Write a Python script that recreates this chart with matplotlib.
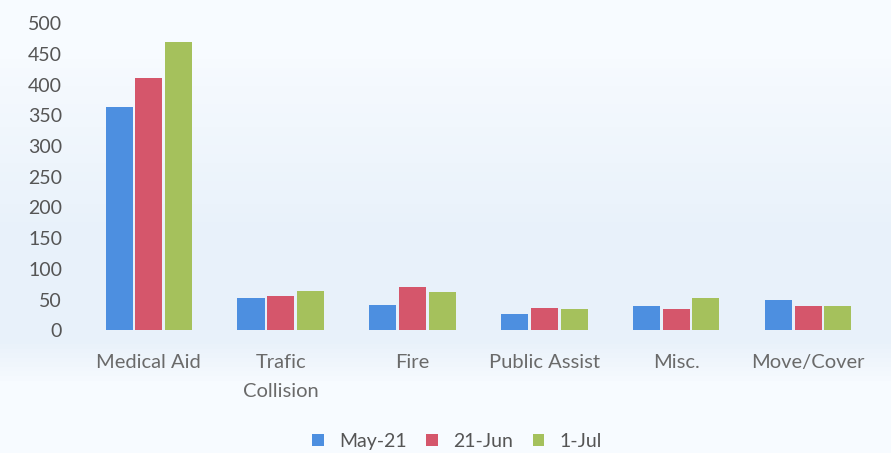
import numpy as np
import matplotlib.pyplot as plt

# values
categories = ['Medical Aid', 'Trafic\nCollision', 'Fire', 'Public Assist', 'Misc.', 'Move/Cover']
may21 = [363, 53, 41, 27, 40, 50]
jun21 = [410, 56, 70, 37, 34, 40]
jul1 = [469, 64, 63, 34, 52, 39]
series_names = ['May-21', '21-Jun', '1-Jul']
colors = ['#4d8fe0', '#d5566b', '#a5c15c']

plt.rcParams['font.family'] = ['Lato', 'DejaVu Sans']

fig = plt.figure(figsize=(8.91, 4.53), dpi=100)

# faint scanned-paper tint behind the lower part of the chart
bg = fig.add_axes([0, 0, 1, 1], zorder=-1)
grad = np.concatenate([np.zeros(10), np.linspace(0, 1, 40), np.ones(25), np.linspace(1, 0, 10), np.zeros(15)])
bg.imshow(grad[:, None], aspect='auto', cmap='Blues', vmin=0, vmax=14, extent=[0, 1, 0, 1])
bg.set_axis_off()

ax = fig.add_axes([0.093, 0.271, 0.888, 0.678])
ax.patch.set_alpha(0)

x = np.arange(len(categories))
width = 0.205
step = 0.225
for i, (vals, name, c) in enumerate(zip([may21, jun21, jul1], series_names, colors)):
    ax.bar(x + (i - 1) * step, vals, width, color=c, label=name)

ax.set_xlim(-0.5, len(categories) - 0.5)
ax.set_ylim(0, 500)
ax.set_yticks(range(0, 501, 50))
ax.set_xticks(x)
ax.set_xticklabels(categories, fontsize=14.5, color='#6a6a6a', linespacing=1.85)
ax.tick_params(axis='y', labelsize=14, labelcolor='#555555', length=0, pad=15)
ax.tick_params(axis='x', length=0, pad=17)
for s in ax.spines.values():
    s.set_visible(False)

fig.legend(loc='center', bbox_to_anchor=(0.513, 0.025), ncol=3, frameon=False,
           fontsize=14, handlelength=0.6, handleheight=0.6, handletextpad=0.8,
           columnspacing=1.0, labelcolor='#555555')

fig.savefig('out.png', dpi=100)
